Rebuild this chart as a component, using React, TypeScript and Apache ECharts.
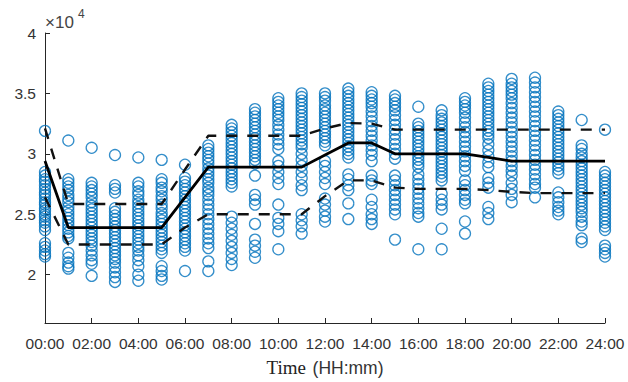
import React, { useEffect, useRef } from "react";
import * as echarts from "echarts";

const hours = [0, 1, 2, 3, 4, 5, 6, 7, 8, 9, 10, 11, 12, 13, 14, 15, 16, 17, 18, 19, 20, 21, 22, 23, 24];
const xTickValues = [0, 2, 4, 6, 8, 10, 12, 14, 16, 18, 20, 22, 24];
const yTickValues = [20000, 25000, 30000, 35000, 40000];

const h00 = [31900, 28500, 28200, 27900, 27700, 27400, 27100, 26800, 26600, 26300, 26000, 25800, 25500, 25300, 25000, 24800, 24500, 24300, 24000, 23700, 22600, 22300, 22000, 21700, 21500];
const h01 = [31100, 27900, 27600, 27300, 27000, 26600, 26300, 26000, 25600, 25300, 25000, 24700, 24400, 24100, 23800, 23500, 23200, 23000, 21800, 21400, 21000, 20700, 20500];
const h02 = [30500, 27600, 27300, 27000, 26700, 26400, 26000, 25700, 25400, 25100, 24800, 24500, 24200, 23900, 23600, 23300, 23000, 22700, 22400, 22000, 21600, 21200, 20900, 19900];
const h03 = [29900, 27400, 27100, 26800, 25500, 25200, 24900, 24600, 24300, 24000, 23700, 23400, 23100, 22800, 22500, 22200, 21900, 21600, 21300, 21000, 20600, 20200, 19800, 19400];
const h04 = [29700, 27600, 27300, 26900, 26600, 26200, 25900, 25600, 25300, 25000, 24700, 24400, 24100, 23800, 23500, 23200, 22900, 22600, 22300, 22000, 21600, 21200, 20700, 20000, 19500];
const h05 = [29500, 27900, 27600, 27200, 26900, 26500, 26200, 25800, 25500, 25100, 24800, 24500, 24200, 23900, 23600, 23300, 23000, 22700, 22400, 22100, 21800, 20700, 20300, 19900, 19600];
const h06 = [29100, 28000, 27700, 27400, 27100, 26800, 26500, 26200, 25900, 25600, 25300, 25000, 24700, 24400, 24100, 23800, 23500, 23200, 22900, 22600, 22300, 22000, 20300];
const h07 = [30700, 30400, 30100, 29800, 29500, 29200, 28800, 28500, 28200, 27900, 27600, 27200, 26900, 26600, 26200, 25800, 25400, 25000, 24600, 24200, 23800, 23400, 23000, 22600, 22200, 21100, 20300];
const h08 = [32400, 32100, 31800, 31500, 31200, 30900, 30600, 30300, 30000, 29700, 29400, 29100, 28800, 28500, 28200, 27900, 27600, 27300, 24800, 24300, 23800, 23300, 22800, 22300, 21800, 21300, 20800];
const h09 = [33700, 33400, 33100, 32800, 32500, 32200, 31900, 31600, 31300, 31000, 30700, 30400, 30100, 29800, 29500, 29200, 28200, 26600, 26200, 25800, 24200, 22900, 22400, 21900, 21400];
const h10 = [34600, 34300, 34000, 33700, 33400, 33100, 32800, 32400, 32000, 31600, 31200, 30800, 30400, 29400, 29000, 28500, 28000, 27500, 25800, 24700, 24200, 23600, 22100];
const h11 = [35000, 34700, 34400, 34100, 33800, 33500, 33200, 32900, 32600, 32300, 32000, 31700, 31400, 31100, 30800, 30500, 30000, 29500, 29000, 28500, 28000, 27400, 27000, 25000, 24500, 24000, 23400];
const h12 = [35000, 34700, 34400, 34000, 33700, 33400, 33100, 32800, 32500, 32200, 31900, 31600, 31300, 31000, 30700, 29400, 29000, 28500, 28000, 27500, 26300, 25800, 25300, 24800, 24400];
const h13 = [35400, 35100, 34800, 34500, 34200, 33900, 33600, 33300, 33000, 32700, 32400, 32100, 31800, 31500, 31200, 30900, 30600, 30300, 30000, 29700, 28300, 27900, 27400, 27000, 25900, 24600];
const h14 = [35100, 34800, 34500, 34200, 33900, 33500, 33100, 32700, 32300, 31900, 31500, 31100, 30700, 30300, 29900, 29400, 28200, 27800, 27500, 26200, 25600, 25000, 24600, 24200];
const h15 = [34800, 34500, 34200, 33900, 33600, 33200, 32800, 32400, 32000, 31600, 31200, 30800, 30400, 30000, 29600, 28200, 27800, 27400, 27000, 26600, 26200, 25800, 25400, 25000, 22900];
const h16 = [33900, 32500, 32200, 31900, 31600, 31300, 31000, 30700, 30400, 30100, 29800, 29500, 29200, 28900, 28300, 27900, 27500, 27100, 26700, 26300, 25900, 25500, 25100, 24800, 22100];
const h17 = [33600, 33200, 32900, 32600, 32300, 32000, 31700, 31400, 31100, 30800, 30500, 30200, 29900, 29600, 29300, 29000, 28700, 28400, 28100, 27800, 26700, 26200, 25800, 25400, 23800, 22100];
const h18 = [34600, 34300, 34000, 33700, 33400, 33000, 32600, 32200, 31800, 31400, 31000, 30600, 30200, 29800, 29400, 29000, 28600, 27800, 27400, 27000, 26600, 26200, 25900, 24400, 23400];
const h19 = [35800, 35500, 35200, 34900, 34600, 34300, 34000, 33700, 33400, 33100, 32800, 32500, 32200, 31900, 31600, 31300, 30800, 30300, 29800, 29300, 28900, 28000, 27600, 27200, 25600, 25100, 24600];
const h20 = [36200, 35800, 35500, 35200, 34900, 34600, 34200, 33800, 33400, 33000, 32600, 32200, 31800, 31400, 31000, 30600, 30200, 29800, 29400, 29000, 28600, 28200, 27600, 27100, 26600, 26000];
const h21 = [36300, 35900, 35500, 35100, 34700, 34300, 33900, 33500, 33100, 32700, 32300, 31900, 31500, 31100, 30700, 30300, 29900, 29500, 29100, 28700, 28300, 27900, 27500, 27200, 26400];
const h22 = [33500, 33200, 32900, 32600, 32300, 32000, 31700, 31400, 31100, 30800, 30500, 30200, 29900, 29600, 29300, 29000, 28700, 28400, 26800, 26400, 26000, 25600, 25300, 25000];
const h23 = [32800, 30700, 30400, 30000, 29700, 29400, 29100, 28800, 28500, 28200, 27900, 27600, 27300, 27000, 26700, 26400, 26100, 25800, 25500, 25200, 24800, 24400, 24100, 23000, 22700];
const h24 = [32000, 28500, 28200, 27900, 27600, 27300, 27000, 26700, 26400, 26100, 25800, 25500, 25200, 24900, 24600, 24300, 24000, 23700, 22400, 22100, 21800, 21500];

const hourSamples = [h00, h01, h02, h03, h04, h05, h06, h07, h08, h09, h10, h11, h12, h13, h14, h15, h16, h17, h18, h19, h20, h21, h22, h23, h24];

const middleLine = [29400, 23900, 23900, 23900, 23900, 23900, 26400, 28900, 28900, 28900, 28900, 28900, 29900, 30900, 30900, 30000, 30000, 30000, 30000, 29700, 29400, 29400, 29400, 29400, 29400];
const upperLine = [32100, 25850, 25850, 25850, 25850, 25850, 28700, 31500, 31500, 31500, 31500, 31500, 32100, 32550, 32500, 32000, 32000, 32000, 32000, 32000, 32000, 32000, 32000, 32000, 32000];
const lowerLine = [26400, 22500, 22500, 22500, 22500, 22500, 23900, 25000, 25000, 25000, 25000, 25000, 26500, 27800, 27800, 27200, 27100, 27100, 27100, 27000, 26850, 26750, 26750, 26750, 26750];

const AXIS = "#262626";
const SANS = "Liberation Sans, Arial, sans-serif";

export default function App() {
  const ref = useRef<HTMLDivElement>(null);
  useEffect(() => {
    document.body.style.margin = "0";
    const chart = echarts.init(ref.current!, undefined, { renderer: "svg" });
    const scatterData: number[][] = [];
    hourSamples.forEach((arr, i) => arr.forEach((v) => scatterData.push([hours[i], v])));
    const toPairs = (arr: number[]) => arr.map((v, i) => [hours[i], v]);
    chart.setOption({
      animation: false,
      backgroundColor: "#ffffff",
      title: [
        {
          text: "×10",
          left: 45,
          top: 14,
          padding: 0,
          textStyle: { fontFamily: SANS, fontSize: 17, fontWeight: "normal", color: "#444" },
        },
        {
          text: "4",
          left: 78,
          top: 8,
          padding: 0,
          textStyle: { fontFamily: SANS, fontSize: 12, fontWeight: "normal", color: "#444" },
        },
      ],
      grid: { left: 45, right: 23, top: 33, bottom: 56 },
      xAxis: {
        type: "value",
        min: 0,
        max: 24,
        interval: 2,
        splitLine: { show: false },
        axisLine: { lineStyle: { color: AXIS, width: 1 } },
        axisTick: { inside: true, length: 5, lineStyle: { color: AXIS } },
        axisLabel: {
          color: "#333",
          fontFamily: SANS,
          fontSize: 15.5,
          margin: 12,
          customValues: xTickValues,
          formatter: (v: number) => (v < 10 ? "0" + v : "" + v) + ":00",
        },
        name: "{t|Time}  {s|(HH:mm)}",
        nameLocation: "middle",
        nameGap: 35,
        nameTextStyle: {
          rich: {
            t: { fontFamily: "Liberation Serif, Times New Roman, serif", fontSize: 19, color: "#222" },
            s: { fontFamily: SANS, fontSize: 17.5, color: "#333" },
          },
        },
      },
      yAxis: {
        type: "value",
        min: 16000,
        max: 40000,
        splitLine: { show: false },
        axisLine: { show: true, lineStyle: { color: AXIS, width: 1 } },
        axisTick: { show: true, inside: true, length: 5, lineStyle: { color: AXIS }, customValues: yTickValues },
        axisLabel: {
          color: "#333",
          fontFamily: SANS,
          fontSize: 15.5,
          margin: 9,
          customValues: yTickValues,
          formatter: (v: number) => String(v / 10000),
        },
      },
      series: [
        {
          type: "scatter",
          data: scatterData,
          symbol: "circle",
          symbolSize: 11,
          itemStyle: { color: "rgba(0,0,0,0)", borderColor: "#0072BD", borderWidth: 1.3 },
          z: 2,
        },
        {
          type: "line",
          data: toPairs(middleLine),
          showSymbol: false,
          lineStyle: { color: "#000", width: 2.8, type: "solid" },
          z: 3,
        },
        {
          type: "line",
          data: toPairs(upperLine),
          showSymbol: false,
          lineStyle: { color: "#111", width: 2.4, type: [11, 10] },
          z: 3,
        },
        {
          type: "line",
          data: toPairs(lowerLine),
          showSymbol: false,
          lineStyle: { color: "#111", width: 2.4, type: [11, 10] },
          z: 3,
        },
      ],
    });
    return () => chart.dispose();
  }, []);
  return <div ref={ref} style={{ width: 628, height: 382 }} />;
}
